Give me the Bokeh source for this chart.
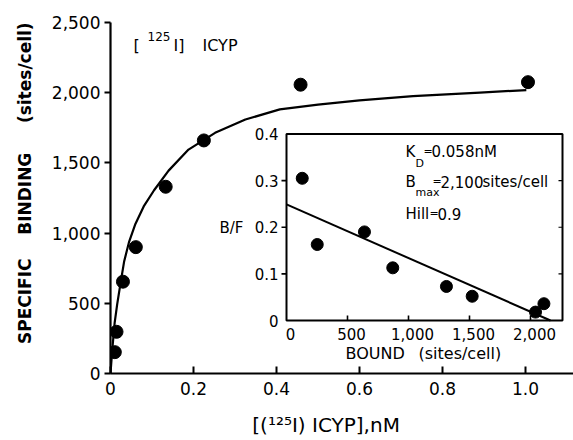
from bokeh.plotting import figure
from bokeh.models import Range1d, Label, FixedTicker
from bokeh.embed import file_html
from bokeh.resources import INLINE
from bokeh.core.properties import value

# ---------------- data ----------------
# main saturation plot
conc_nM = [0.0104, 0.0145, 0.030, 0.061, 0.133, 0.225, 0.458, 1.006]
specific_bound = [152, 297, 654, 900, 1330, 1660, 2057, 2075]

# drawn saturation curve
curve_conc = [0, 0.004, 0.010, 0.016, 0.024, 0.033, 0.045, 0.060, 0.080, 0.105,
              0.140, 0.188, 0.252, 0.325, 0.408, 0.500, 0.600, 0.729, 0.890, 1.002]
curve_bound = [0, 160, 360, 490, 640, 800, 940, 1065, 1190, 1305,
               1445, 1595, 1714, 1809, 1881, 1915, 1945, 1976, 2000, 2019]

main_xticks = [0, 0.2, 0.4, 0.6, 0.8, 1.0]
main_xlabels = ["0", "0.2", "0.4", "0.6", "0.8", "1.0"]
main_yticks = [0, 500, 1000, 1500, 2000, 2500]
main_ylabels = ["0", "500", "1,000", "1,500", "2,000", "2,500"]

y_title_words = ["SPECIFIC", "BINDING", "(sites/cell)"]
x_title = "[(\u00b9\u00b2\u2075I) ICYP],nM"

# inset Scatchard plot
scat_bound = [129, 252, 639, 871, 1311, 1522, 2041, 2110]
scat_bf = [0.305, 0.163, 0.190, 0.113, 0.073, 0.052, 0.018, 0.036]
fit_bound = [0, 2164]
fit_bf = [0.249, 0.0]

inset_xticks = [0, 500, 1000, 1500, 2000]
inset_xlabels = ["0", "500", "1,000", "1,500", "2,000"]
inset_yticks = [0, 0.1, 0.2, 0.3, 0.4]
inset_ylabels = ["0", "0.1", "0.2", "0.3", "0.4"]

# ---------------- layout (page pixels) ----------------
OFF = 0
W, H = 573, 440
FL, FR, FT, FB = 110, 573, 22, 373          # main frame on page
PX_PER_X = 415.0                              # px per nM
X_END = (FR - FL) / PX_PER_X
Y_END = 2500

IL, IR, IT, IB = 286, 562, 133.5, 320         # inset box on page
IPX_X = 61.0 / 500.0                          # px per site/cell
IPX_Y = (IB - IT) / 0.4                       # px per B/F unit
IX_MAX = (IR - IL) / IPX_X
IY_MAX = 0.4

FONT = "DejaVu Sans"
NB = "\u00a0"


def to_data(px, py):
    return (px - FL) / PX_PER_X, (FB - py) * Y_END / (FB - FT)


p = figure(width=W - OFF, height=H - OFF, output_backend="svg", toolbar_location=None,
           x_range=Range1d(0, X_END), y_range=Range1d(0, Y_END),
           min_border_left=FL - OFF, min_border_right=0,
           min_border_top=FT - OFF, min_border_bottom=H - FB)
p.outline_line_color = None
p.xgrid.visible = False
p.ygrid.visible = False
p.background_fill_color = "white"
p.border_fill_color = "white"

# inset ranges mapped so that inset box sits at IL..IR, IT..IB
p.extra_x_ranges = {"ix": Range1d(-(IL - FL) / IPX_X, (FR - IL) / IPX_X)}
p.extra_y_ranges = {"iy": Range1d(-(FB - IB) / IPX_Y, (IB - FT) / IPX_Y)}

# axes styling
for ax in (p.xaxis[0], p.yaxis[0]):
    ax.axis_line_width = 2.2
    ax.axis_line_color = "black"
    ax.major_tick_line_width = 2
    ax.major_tick_line_color = "black"
    ax.minor_tick_line_color = None
    ax.major_label_text_font = FONT
    ax.major_label_text_font_size = "17px"
    ax.major_label_text_color = "black"
    ax.axis_label_text_font = FONT
    ax.axis_label_text_color = "black"

p.xaxis.ticker = FixedTicker(ticks=main_xticks)
p.xaxis.major_label_overrides = dict(zip(main_xticks, main_xlabels))
p.xaxis.major_tick_in = 7
p.xaxis.major_tick_out = 0
p.xaxis.major_label_standoff = 8
p.xaxis.axis_label = x_title + NB * 5
p.xaxis.axis_label_text_font_size = "20px"
p.xaxis.axis_label_text_font_style = "normal"
p.xaxis.axis_label_standoff = 15

p.yaxis.ticker = FixedTicker(ticks=main_yticks)
p.yaxis.major_label_overrides = dict(zip(main_yticks, main_ylabels))
p.yaxis.major_tick_in = 0
p.yaxis.major_tick_out = 6
p.yaxis.major_label_standoff = 4
p.yaxis.axis_label = (NB * 5 + y_title_words[0] + NB * 4 + y_title_words[1]
                      + NB * 5 + y_title_words[2])
p.yaxis.axis_label_text_font_size = "17px"
p.yaxis.axis_label_text_font_style = "bold"
p.yaxis.axis_label_standoff = 14

# main curve and points
p.line(curve_conc, curve_bound, line_width=2.2, line_color="black", line_join="round")
p.scatter(conc_nM, specific_bound, size=13, fill_color="black", line_color="black")

# ---------------- inset ----------------
R = dict(x_range_name="ix", y_range_name="iy")
p.quad(left=[0], right=[IX_MAX], bottom=[0], top=[IY_MAX], fill_color="white",
       line_color="black", line_width=2, **R)
# bottom ticks (inward)
bt = [t for t in inset_xticks if t > 0]
p.segment(x0=bt, y0=[0] * len(bt), x1=bt, y1=[5 / IPX_Y] * len(bt),
          line_color="black", line_width=1.6, **R)
# left ticks (outward)
lt = [t for t in inset_yticks if 0 < t < IY_MAX]
p.segment(x0=[0] * len(lt), y0=lt, x1=[-5 / IPX_X] * len(lt), y1=lt,
          line_color="black", line_width=1.6, **R)
# right ticks (inward)
p.segment(x0=[IX_MAX] * len(lt), y0=lt, x1=[IX_MAX - 4 / IPX_X] * len(lt), y1=lt,
          line_color="black", line_width=1.2, **R)

p.text(x=inset_xticks, y=[0] * len(inset_xticks), text=inset_xlabels,
       text_align="center", text_baseline="middle", x_offset=4, y_offset=13,
       text_font=value(FONT), text_font_size="15px", text_color="black", **R)
p.text(x=[0] * len(inset_yticks), y=inset_yticks, text=inset_ylabels,
       text_align="right", text_baseline="middle", x_offset=-8,
       text_font=value(FONT), text_font_size="15px", text_color="black", **R)

p.line(fit_bound, fit_bf, line_width=2, line_color="black", **R)
p.scatter(scat_bound, scat_bf, size=12, fill_color="black", line_color="black", **R)


# ---------------- text annotations (inside the frame) ----------------
def lab(text, px, py, size, align="left", bold=False):
    x, y = to_data(px, py)
    p.add_layout(Label(x=x, y=y, text=text, text_font=FONT, text_font_size=f"{size}px",
                       text_align=align, text_baseline="middle", text_color="black",
                       text_font_style="bold" if bold else "normal"))


# ligand label
lab("[", 133, 45, 16)
lab("125", 147, 36, 12)
lab("I]", 173, 45, 16)
lab("ICYP", 202, 45, 16)

# inset annotations
lab("K", 405, 151, 15)
lab("D", 415, 163, 11)
lab("=", 423, 151, 11)
lab("0.058nM", 431, 151, 15)
lab("B", 405, 181, 15)
lab("max", 415, 192, 11)
lab("=", 432, 181, 11)
lab("2,100", 440, 181, 15)
lab("sites/cell", 482, 181, 15)
lab("Hill", 405, 213, 15)
lab("=", 429, 213, 11)
lab("0.9", 437, 213, 15)

lab("B/F", 219, 227, 15)
lab("BOUND", 345, 353, 16)
lab("(sites/cell)", 418, 353, 16)

open("out.html", "w").write(file_html(p, INLINE))
